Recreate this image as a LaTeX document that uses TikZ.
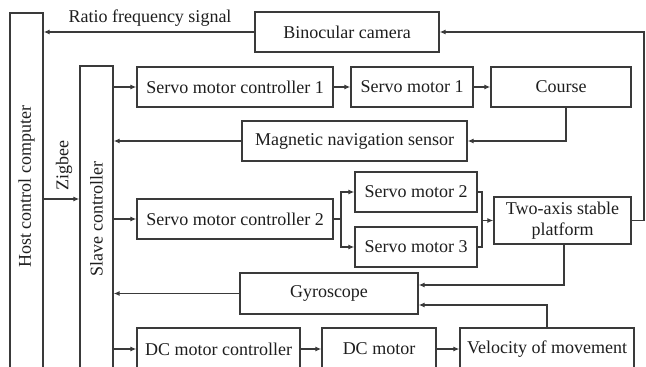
\documentclass[tikz,border=0pt]{standalone}
\usepackage{fontspec}
\setmainfont{Liberation Serif}
\usetikzlibrary{arrows.meta,calc}
\definecolor{ln}{HTML}{3A3A3A}
\definecolor{tx}{HTML}{1E1E1E}
\tikzset{
  box/.style={draw=ln, line width=1.3pt, fill=white, inner sep=0pt, minimum height=40pt, text=tx, align=center,
    font=\fontsize{18}{20}\selectfont},
  lbl/.style={inner sep=0pt, text=tx, font=\fontsize{18}{20}\selectfont},
  arr/.style={draw=ln, line width=1.3pt, -{Latex[length=6pt,width=5pt]}},
  ln/.style={draw=ln, line width=1.3pt}
}
\begin{document}
\begin{tikzpicture}[x=1pt,y=-1pt]
\useasboundingbox (0,0) rectangle (646,367);
\clip (0,0) rectangle (646,367);
\fill[white] (0,0) rectangle (646,367);
% tall boxes
\node[box, minimum width=33pt, minimum height=387pt] (host) at (26.5,206.5) {};
\node[lbl, rotate=90] (hostlabel) at (26.5,187) {Host control computer};
\node[box, minimum width=33pt, minimum height=334pt] (slave) at (96.5,233) {};
\node[lbl, rotate=90] (slavelabel) at (96.5,219) {Slave controller};
% boxes
\node[box, minimum width=184pt] (camera) at (347,32) {Binocular camera};
\node[box, minimum width=196pt] (smc1) at (235,87) {Servo motor controller 1};
\node[box, minimum width=122pt] (sm1) at (412,87) {Servo motor 1};
\node[box, minimum width=140pt] (course) at (561,87) {Course};
\node[box, minimum width=225pt] (mag) at (354.5,141) {Magnetic navigation sensor};
\node[box, minimum width=196pt] (smc2) at (235,219) {Servo motor controller 2};
\node[box, minimum width=122pt] (sm2) at (416,192) {Servo motor 2};
\node[box, minimum width=122pt] (sm3) at (416,247) {Servo motor 3};
\node[box, minimum width=137pt, minimum height=47pt, font=\fontsize{18}{21}\selectfont] (plat) at (562.5,220.5) {Two-axis stable\\platform};
\node[box, minimum width=178pt, minimum height=41pt] (gyro) at (329,293.5) {Gyroscope};
\node[box, minimum width=163pt, minimum height=42pt] (dcmc) at (218.5,349) {DC motor controller};
\node[box, minimum width=114pt, minimum height=42pt] (dcm) at (379,349) {DC motor};
\node[box, minimum width=174pt, minimum height=42pt] (vel) at (547,349) {Velocity of movement};
% labels
\node[lbl] (rfs) at (150,18) {Ratio frequency signal};
\node[lbl, rotate=90] (zig) at (64,166) {Zigbee};
% coordinates
\coordinate (rr) at (644,0);
\coordinate (zg) at (0,199);
\coordinate (b1) at (341,219);
\coordinate (b2) at (482,220.5);
% connectors
\draw[arr] (camera.west) -- (camera.west -| host.east);
\draw[arr] (plat.east) -- (plat.east -| rr) |- (camera.east);
\draw[arr] (zg -| host.east) -- (zg -| slave.west);
\draw[arr] (smc1.west -| slave.east) -- (smc1.west);
\draw[arr] (smc1) -- (sm1);
\draw[arr] (sm1) -- (course);
\draw[arr] ([xshift=5pt]course.south) |- (mag.east);
\draw[arr] (mag.west) -- (mag.west -| slave.east);
\draw[arr] (smc2.west -| slave.east) -- (smc2.west);
\draw[ln] (smc2.east) -- (b1);
\draw[arr] (b1) |- (sm2.west);
\draw[arr] (b1) |- (sm3.west);
\draw[ln] (sm2.east) -| (b2);
\draw[ln] (sm3.east) -| (b2);
\draw[arr] (b2) -- (plat.west);
\draw[arr] ([xshift=1.5pt]plat.south) |- ([yshift=8.5pt]gyro.east);
\draw[arr] (vel.north) |- ([yshift=-11.5pt]gyro.east);
\draw[arr] (gyro.west) -- (gyro.west -| slave.east);
\draw[arr] (dcmc.west -| slave.east) -- (dcmc.west);
\draw[arr] (dcmc) -- (dcm);
\draw[arr] (dcm) -- (vel);
\end{tikzpicture}
\end{document}
